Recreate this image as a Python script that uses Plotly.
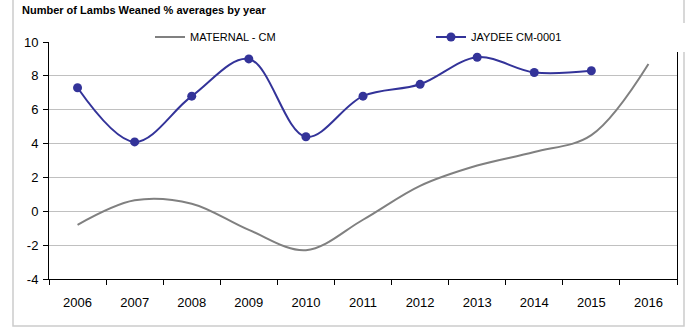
import plotly.graph_objects as go

years = ["2006", "2007", "2008", "2009", "2010", "2011", "2012", "2013", "2014", "2015", "2016"]
maternal_cm = [-0.8, 0.65, 0.45, -1.1, -2.3, -0.5, 1.5, 2.7, 3.5, 4.5, 8.7]
jaydee_years = ["2006", "2007", "2008", "2009", "2010", "2011", "2012", "2013", "2014", "2015"]
jaydee_cm_0001 = [7.3, 4.1, 6.8, 9.0, 4.4, 6.8, 7.5, 9.1, 8.2, 8.3]
y_ticks = [-4, -2, 0, 2, 4, 6, 8, 10]
y_tick_labels = ["-4", "-2", "0", "2", "4", "6", "8", "10"]

FONT = "Liberation Sans, Arial, sans-serif"

fig = go.Figure()
fig.add_trace(go.Scatter(
    x=years, y=maternal_cm, name="MATERNAL - CM", mode="lines",
    line=dict(color="#808080", width=2, shape="spline", smoothing=1.0),
    legend="legend",
))
fig.add_trace(go.Scatter(
    x=jaydee_years, y=jaydee_cm_0001, name="JAYDEE CM-0001", mode="lines+markers",
    line=dict(color="#333399", width=2, shape="spline", smoothing=1.0),
    marker=dict(color="#333399", size=9),
    legend="legend2",
))

L, R, T, B = 49, 10, 42, 48
W, H = 687, 327
pw, ph = W - L - R, H - T - B

legend_common = dict(
    orientation="h", bgcolor="white", borderwidth=0,
    font=dict(family=FONT, size=11, color="black"),
    xref="container", yref="container",
    xanchor="left", yanchor="middle",
    y=1 - 37 / H,
)

fig.update_layout(
    width=W, height=H,
    margin=dict(l=L, r=R, t=T, b=B, autoexpand=False),
    paper_bgcolor="white", plot_bgcolor="white",
    font=dict(family=FONT, color="black", size=13),
    title=dict(
        text="<b>Number of Lambs Weaned % averages by year</b>",
        font=dict(family=FONT, size=11, color="black"),
        x=22 / W, xref="container", xanchor="left",
        y=1 - 10 / H, yref="container", yanchor="middle",
        pad=dict(t=0, b=0, l=0, r=0),
    ),
    showlegend=True,
    legend=dict(legend_common, x=150 / W, entrywidth=278, entrywidthmode="pixels"),
    legend2=dict(legend_common, x=431 / W, entrywidth=220, entrywidthmode="pixels"),
    xaxis=dict(
        type="category", categoryorder="array", categoryarray=years,
        range=[-0.5, len(years) - 0.5],
        showline=True, linecolor="black", linewidth=1,
        ticks="outside", tickson="boundaries", ticklen=5, tickcolor="black",
        showgrid=False, tickfont=dict(size=13, family=FONT),
        ticklabelstandoff=11, automargin=False,
    ),
    yaxis=dict(
        range=[-4, 10], tickvals=y_ticks, ticktext=y_tick_labels,
        showline=True, linecolor="black", linewidth=1, mirror=True,
        ticks="outside", ticklen=5, tickcolor="black",
        showgrid=True, gridcolor="#c0c0c0", gridwidth=1,
        zeroline=False, tickfont=dict(size=13, family=FONT),
        ticklabelstandoff=2, automargin=False,
    ),
    shapes=[dict(
        type="rect", xref="paper", yref="paper",
        x0=(13 - L) / pw, x1=(684 - L) / pw,
        y0=(H - B - 326) / ph, y1=(H - B + 2) / ph,
        line=dict(color="#cccccc", width=1.5), fillcolor="rgba(0,0,0,0)",
        layer="below",
    )],
)

fig.write_html(
    "out.html",
    config={"displayModeBar": False},
    post_script="document.body.style.margin='0';document.body.style.overflow='hidden';",
)
